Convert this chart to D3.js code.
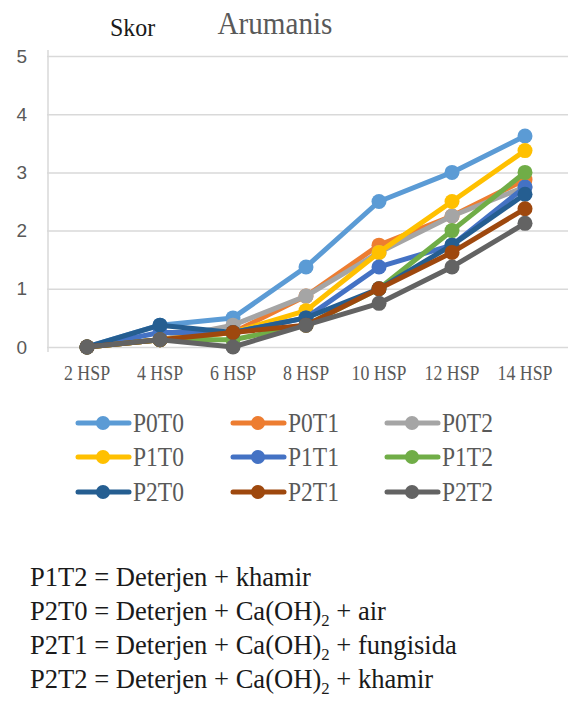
<!DOCTYPE html>
<html>
<head>
<meta charset="utf-8">
<script src="https://cdn.jsdelivr.net/npm/d3@7"></script>
<style>
  body { margin: 0; background: #fff; }
  svg { display: block; }
  .serif { font-family: "Liberation Serif", "DejaVu Serif", "Times New Roman", serif; }
</style>
</head>
<body>
<div id="chart"></div>
<script>
// categories on the x axis
var categories = ["2 HSP", "4 HSP", "6 HSP", "8 HSP", "10 HSP", "12 HSP", "14 HSP"];
var yTicks = [0, 1, 2, 3, 4, 5];

// series (score)
var seriesNames = ["P0T0", "P0T1", "P0T2", "P1T0", "P1T1", "P1T2", "P2T0", "P2T1", "P2T2"];
var P0T0 = [0, 0.375, 0.5, 1.375, 2.5, 3.0, 3.625];
var P0T1 = [0, 0.125, 0.25, 0.875, 1.75, 2.25, 2.875];
var P0T2 = [0, 0.125, 0.375, 0.875, 1.625, 2.25, 2.75];
var P1T0 = [0, 0.125, 0.25, 0.625, 1.625, 2.5, 3.375];
var P1T1 = [0, 0.25, 0.25, 0.5, 1.375, 1.75, 2.75];
var P1T2 = [0, 0.125, 0.125, 0.375, 1.0, 2.0, 3.0];
var P2T0 = [0, 0.375, 0.25, 0.5, 1.0, 1.75, 2.625];
var P2T1 = [0, 0.125, 0.25, 0.375, 1.0, 1.625, 2.375];
var P2T2 = [0, 0.125, 0, 0.375, 0.75, 1.375, 2.125];
var seriesValues = [P0T0, P0T1, P0T2, P1T0, P1T1, P1T2, P2T0, P2T1, P2T2];
var colors = ["#5B9BD5", "#ED7D31", "#A5A5A5", "#FFC000", "#4472C4", "#70AD47", "#255E91", "#9E480E", "#636363"];

// notes under the chart: [before subscript, subscript, after]
var notes = [
  ["P1T2 = Deterjen + khamir", "", ""],
  ["P2T0 = Deterjen + Ca(OH)", "2", " + air"],
  ["P2T1 = Deterjen + Ca(OH)", "2", " + fungisida"],
  ["P2T2 = Deterjen + Ca(OH)", "2", " + khamir"]
];

var W = 568, H = 701;
var grey = "#595959";

var svg = d3.select("#chart").append("svg")
  .attr("width", W)
  .attr("height", H);

var x = d3.scalePoint().domain(categories).range([50.5, 561.5]).padding(0.5);
var y = d3.scaleLinear().domain([0, 5]).range([347, 56]);

// text in the picture is a bit narrower than the font, so squeeze it
function squeezed(px, py, str, size, k, anchor, fill) {
  return svg.append("text")
    .attr("class", "serif")
    .attr("transform", "translate(" + px + "," + py + ") scale(" + k + ",1)")
    .attr("text-anchor", anchor)
    .attr("font-size", size)
    .attr("fill", fill)
    .text(str);
}

// grid + y labels
var yAxis = svg.append("g")
  .attr("transform", "translate(47,0)")
  .call(d3.axisLeft(y).tickValues(yTicks).tickSize(-(W - 47)).tickPadding(20).tickFormat(d3.format("d")));
yAxis.select(".domain").remove();
yAxis.selectAll(".tick line").attr("stroke", "#d9d9d9").attr("stroke-width", 1.5);
yAxis.selectAll(".tick text")
  .attr("font-family", "'Liberation Sans', Arial, sans-serif")
  .attr("font-size", 19)
  .attr("fill", grey);

// left axis line
svg.append("line")
  .attr("x1", 48).attr("x2", 48)
  .attr("y1", 50).attr("y2", 352)
  .attr("stroke", "#d9d9d9").attr("stroke-width", 1.5);

// x labels
categories.forEach(function(c) {
  squeezed(x(c), 380, c, 21, 0.85, "middle", grey);
});

// title and axis caption
squeezed(275, 34, "Arumanis", 31, 0.94, "middle", grey);
squeezed(110, 36, "Skor", 26, 0.92, "start", "#1a1a1a");

// lines + markers
var line = d3.line()
  .x(function(d, i) { return x(categories[i]); })
  .y(function(d) { return y(d); });

seriesValues.forEach(function(vals, s) {
  var g = svg.append("g").attr("class", "series");
  g.append("path")
    .attr("d", line(vals))
    .attr("fill", "none")
    .attr("stroke", colors[s])
    .attr("stroke-width", 5)
    .attr("stroke-linejoin", "round");
  g.selectAll("circle")
    .data(vals)
    .enter().append("circle")
    .attr("cx", function(d, i) { return x(categories[i]); })
    .attr("cy", function(d) { return y(d); })
    .attr("r", 7.5)
    .attr("fill", colors[s]);
});

// legend, 3 columns
var legX = [78, 233, 387];
var legY = [423, 457, 492];
seriesNames.forEach(function(name, i) {
  var lx = legX[i % 3], ly = legY[Math.floor(i / 3)];
  svg.append("line")
    .attr("x1", lx).attr("x2", lx + 51)
    .attr("y1", ly).attr("y2", ly)
    .attr("stroke", colors[i]).attr("stroke-width", 5)
    .attr("stroke-linecap", "round");
  svg.append("circle")
    .attr("cx", lx + 25).attr("cy", ly).attr("r", 7)
    .attr("fill", colors[i]);
  squeezed(lx + 55, ly + 9, name, 27, 0.87, "start", grey);
});

// notes
notes.forEach(function(n, i) {
  var t = squeezed(30, 586 + i * 34, "", 27, 0.985, "start", "#1a1a1a");
  t.append("tspan").text(n[0]);
  if (n[1]) {
    t.append("tspan").attr("dy", 6).attr("font-size", 17).text(n[1]);
    t.append("tspan").attr("dy", -6).text(n[2]);
  }
});
</script>
</body>
</html>
